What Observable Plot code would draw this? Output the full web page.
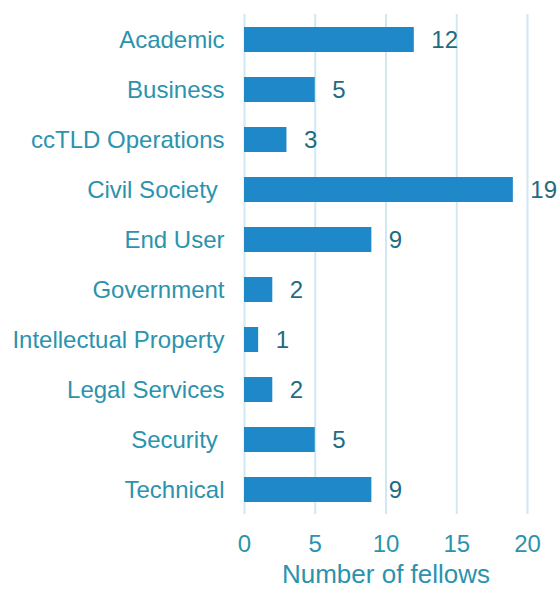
<!DOCTYPE html>
<html>
<head>
<meta charset="utf-8">
<script src="https://cdn.jsdelivr.net/npm/d3@7"></script>
<script src="https://cdn.jsdelivr.net/npm/@observablehq/plot@0.6"></script>
<style>
  body { margin: 0; background: #fff; }
</style>
</head>
<body>
<div id="chart"></div>
<script>
const categories = ["Academic", "Business", "ccTLD Operations", "Civil Society\u00a0", "End User", "Government", "Intellectual Property", "Legal Services", "Security\u00a0", "Technical"];
const fellows = [12, 5, 3, 19, 9, 2, 1, 2, 5, 9];
const xTicks = [0, 5, 10, 15, 20];
const xLabel = "Number of fellows";

const data = categories.map((c, i) => ({category: c, value: fellows[i]}));

const chart = Plot.plot({
  width: 558,
  height: 589,
  marginLeft: 244,
  marginRight: 31,
  marginTop: 14,
  marginBottom: 75,
  style: {fontFamily: "'Liberation Sans', Arial, sans-serif", background: "#fff"},
  x: {domain: [0, 20]},
  y: {domain: categories, paddingInner: 0.5, paddingOuter: 0.25},
  marks: [
    Plot.gridX(xTicks, {stroke: "#cfe8f2", strokeOpacity: 1, strokeWidth: 2}),
    Plot.barX(data, {x: "value", y: "category", fill: "#1e88c8"}),
    Plot.text(data, {x: "value", y: "category", text: d => String(d.value), textAnchor: "start", dx: 17, fill: "#1f6b7f", fontSize: 24}),
    Plot.axisY({tickSize: 0, tickPadding: 20, fontSize: 24, color: "#2b93ad", label: null}),
    Plot.axisX({ticks: xTicks, tickSize: 0, tickPadding: 20, fontSize: 24, color: "#2b93ad", label: null}),
    Plot.text([xLabel], {frameAnchor: "bottom", dy: 68, text: d => d, fontSize: 26, fill: "#2b93ad", lineAnchor: "bottom"})
  ]
});
document.getElementById("chart").appendChild(chart);
</script>
</body>
</html>
